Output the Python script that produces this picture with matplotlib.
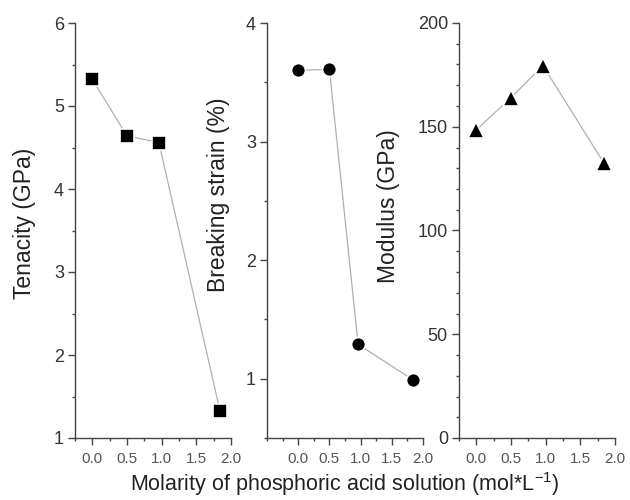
import matplotlib
matplotlib.use("Agg")
import matplotlib.pyplot as plt
from matplotlib.ticker import MultipleLocator

plt.rcParams['font.family'] = ['Liberation Sans', 'DejaVu Sans']
plt.rcParams['mathtext.fontset'] = 'custom'
plt.rcParams['mathtext.rm'] = 'Liberation Sans'

# molarity of phosphoric acid solution (mol/L)
molarity = [0.0, 0.5, 0.96, 1.84]

tenacity = [5.32, 4.64, 4.56, 1.33]        # GPa
breaking_strain = [3.60, 3.61, 1.29, 0.99]  # %
modulus = [148.5, 164.0, 179.5, 132.5]      # GPa

panels = [
    # (values, ylabel, marker, ylim, major, minor, xlim, left px, label centre px)
    (tenacity, "Tenacity (GPa)", "s", (1, 6), 1, 0.5, (-0.25, 2.0), 75, (25, 223)),
    (breaking_strain, "Breaking strain (%)", "o", (0.5, 4), 1, 0.5, (-0.5, 2.0), 267, (219, 195)),
    (modulus, "Modulus (GPa)", "^", (0, 200), 50, 10, (-0.25, 2.0), 459, (389, 206)),
]

W, H = 630, 500
fig = plt.figure(figsize=(W / 100, H / 100), dpi=100)

spine_col = "#444444"
for vals, ylab, mk, ylim, major, minor, xlim, left, labpos in panels:
    ax = fig.add_axes([left / W, 1 - 438 / H, 156 / W, (438 - 23) / H])
    ax.plot(molarity, vals, color="#b0b0b0", lw=0.9, zorder=1)
    ms = {"s": 9.5, "o": 10, "^": 11.5}[mk]
    ax.plot(molarity, vals, ls="none", marker=mk, ms=ms, color="black",
            mec="white", mew=1.2, zorder=2, clip_on=False)
    ax.set_xlim(*xlim)
    ax.set_ylim(*ylim)
    ax.xaxis.set_minor_locator(MultipleLocator(0.25))
    ax.yaxis.set_major_locator(MultipleLocator(major))
    ax.yaxis.set_minor_locator(MultipleLocator(minor))
    ax.set_xticks([0.0, 0.5, 1.0, 1.5, 2.0])
    ax.set_xticklabels(["0.0", "0.5", "1.0", "1.5", "2.0"])
    for s in ("top", "right"):
        ax.spines[s].set_visible(False)
    for s in ("left", "bottom"):
        ax.spines[s].set_color(spine_col)
        ax.spines[s].set_linewidth(1.0)
    ax.tick_params(which="major", direction="out", length=5, width=1.0,
                   color=spine_col)
    ax.tick_params(which="minor", direction="out", length=2.5, width=1.0,
                   color=spine_col)
    ax.tick_params(axis="y", labelsize=13, labelcolor="#333333", pad=3)
    ax.tick_params(axis="x", labelsize=11, labelcolor="#555555", pad=5)
    fig.text(labpos[0] / W, 1 - labpos[1] / H, ylab, rotation=90,
             ha="center", va="center", fontsize=16.5, color="#222222")

fig.text(345 / W, 1 - 484 / H, "Molarity of phosphoric acid solution (mol*L$^{-1}$)",
         ha="center", va="center", fontsize=15.5, color="#222222")

fig.savefig("out.png", dpi=100)
